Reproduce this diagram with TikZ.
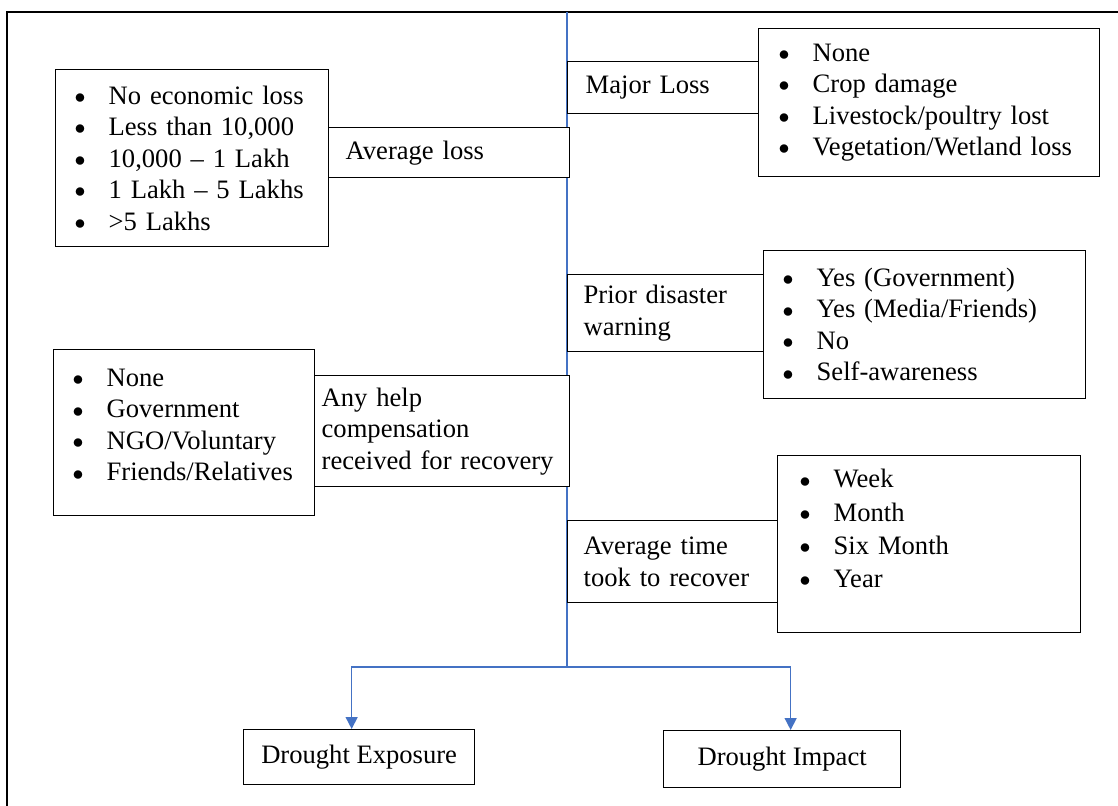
\documentclass[tikz,border=0pt]{standalone}
\usepackage{fontspec}
\setmainfont{Liberation Serif}
\usetikzlibrary{arrows.meta,positioning}
\definecolor{wordblue}{RGB}{68,114,196}
\newcommand{\bul}{\makebox[17pt][l]{\raisebox{0.4pt}{\fontsize{10.5}{0}\selectfont$\bullet$}}}

\begin{document}
\begin{tikzpicture}[
    x=0.5pt, y=-0.5pt,
    font=\fontsize{13.3}{15.75}\selectfont,
    box/.style={draw, line width=0.65pt, fill=white, anchor=north west, align=left, inner ysep=0pt},
    outbox/.style={box, align=center, inner xsep=0pt},
    link/.style={draw=wordblue, line width=0.75pt}
]
\useasboundingbox (0,0) rectangle (1118,806);
\draw[line width=1pt] (7,806) -- (7,12) -- (1118,12);

% spine
\coordinate (top) at (567,12);
\coordinate (split) at (567,667);
\draw[link] (top) -- (split);

% left side
\node[box, inner xsep=9.5pt, text width=117.5pt, minimum height=88.5pt] (losslist) at (55,69)
    {\bul No economic loss\\\bul Less than 10,000\\\bul 10,000 -- 1 Lakh\\\bul 1 Lakh -- 5 Lakhs\\\bul >5 Lakhs};
\node[box, inner xsep=8.5pt, text width=103.5pt, minimum height=25pt] (avgloss) at (328,127) {Average loss};
\node[box, inner xsep=9.5pt, text width=111.5pt, minimum height=83pt] (helplist) at (53,349)
    {\bul None\\\bul Government\\\bul NGO/Voluntary\\\bul Friends/Relatives\\[-8pt]~};
\node[box, inner xsep=3.5pt, text width=120.5pt, minimum height=55.5pt] (help) at (314,375)
    {Any help\\compensation\\received for recovery};

% right side
\node[box, inner xsep=10pt, text width=150.5pt, minimum height=74pt] (majorlist) at (758,28)
    {\bul None\\\bul Crop damage\\\bul Livestock/poultry lost\\\bul Vegetation/Wetland loss};
\node[box, inner xsep=9pt, text width=77.5pt, minimum height=26pt] (major) at (567,61) {Major Loss};
\node[box, inner xsep=8pt, text width=82pt, minimum height=38.5pt] (warning) at (567,274)
    {Prior disaster\\warning};
\node[box, inner xsep=9.5pt, text width=142pt, minimum height=74pt] (warnlist) at (763,250)
    {\bul Yes (Government)\\\bul Yes (Media/Friends)\\\bul No\\\bul Self-awareness};
\node[box, inner xsep=8pt, text width=89pt, minimum height=41pt] (rectime) at (567,520)
    {Average time\\took to recover};
\node[box, inner xsep=11pt, text width=129.5pt, minimum height=88.5pt] (timelist) at (777,455)
    {\bul Week\\[0.8pt]\bul Month\\[0.8pt]\bul Six Month\\[0.8pt]\bul Year\\~};

% outcomes
\node[outbox, minimum width=115.5pt, minimum height=27.5pt] (expo) at (243,729) {Drought Exposure};
\node[outbox, minimum width=118.5pt, minimum height=28.5pt] (impact) at (663,730) {Drought Impact};

\draw[link, -{Triangle[width=6pt,length=6pt]}] (split) -| ([xshift=-3.75pt]expo.north);
\draw[link, -{Triangle[width=6pt,length=6pt]}] (split) -| ([xshift=4.25pt]impact.north);

\end{tikzpicture}
\end{document}
